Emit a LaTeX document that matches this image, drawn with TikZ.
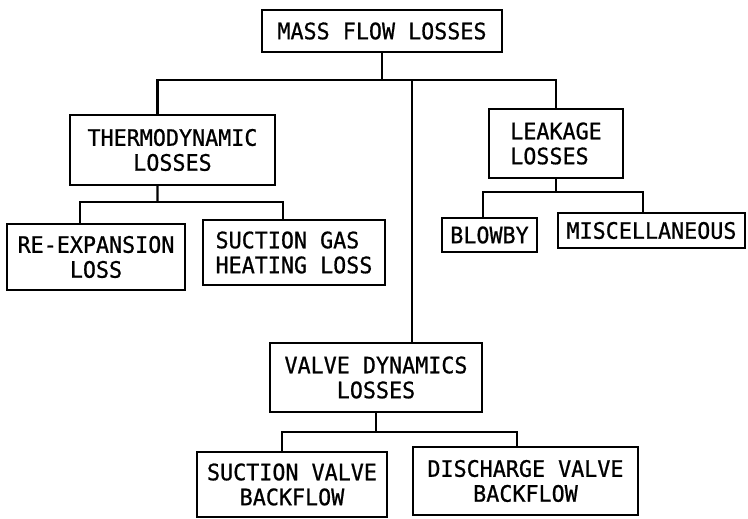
\documentclass[tikz,border=0pt]{standalone}
\usepackage{fontspec}
\usepackage{tikz}
\usetikzlibrary{calc}
\newfontfamily\printfont[FakeBold=0.8, FakeStretch=0.96]{DejaVu Sans Mono}
\definecolor{myink}{RGB}{0,0,0}
\tikzset{
  box/.style={rectangle, draw=myink, line width=2pt, inner sep=0pt,
    align=center, text=myink,
    font={\printfont\fontsize{19.3pt}{21.3pt}\selectfont}},
  lbox/.style={box, align=left},
  line/.style={line width=2pt, color=myink}
}
\begin{document}
\begin{tikzpicture}[x=0.3mm, y=-0.3mm]
  \useasboundingbox (0,0) rectangle (748,519);
  % top
  \node[box, minimum width=72mm, minimum height=12.6mm] (mass) at (382,31) {MASS FLOW LOSSES};
  % second level
  \node[box, minimum width=61.5mm, minimum height=21mm] (thermo) at (172.5,150) {THERMODYNAMIC\\LOSSES};
  \node[lbox, minimum width=40.2mm, minimum height=20.7mm] (leak) at (556,143.5) {LEAKAGE\\LOSSES};
  \node[box, minimum width=63.6mm, minimum height=20.7mm] (valve) at (376,377.5) {VALVE DYNAMICS\\LOSSES};
  % leaves
  \node[box, minimum width=53.4mm, minimum height=19.8mm] (reexp) at (96,257) {RE-EXPANSION\\LOSS};
  \node[lbox, minimum width=54.6mm, minimum height=19.5mm] (sucgas) at (294,252.5) {SUCTION GAS\\HEATING LOSS};
  \node[box, minimum width=28.5mm, minimum height=10.2mm] (blowby) at (489.5,235) {BLOWBY};
  \node[box, minimum width=56.1mm, minimum height=10.5mm] (misc) at (651.5,230.5) {MISCELLANEOUS};
  \node[box, minimum width=57mm, minimum height=19.5mm] (sucvalve) at (292,484.5) {SUCTION VALVE\\BACKFLOW};
  \node[box, minimum width=67.5mm, minimum height=20.4mm] (discharge) at (525.5,481) {DISCHARGE VALVE\\BACKFLOW};
  % junctions
  \coordinate (hub) at (412,80);
  \coordinate (tsplit) at (157.5,202);
  \coordinate (lsplit) at (556,192);
  \coordinate (vsplit) at (376,432);
  % connectors
  \draw[line] (mass.south) -- (mass.south |- hub);
  \draw[line] ([xshift=-4.5mm]thermo.north) |- (hub) -| (leak.north);
  \draw[line] (hub) -- (hub |- valve.north);
  \draw[line] ([xshift=-4.5mm]thermo.south) -- (tsplit);
  \draw[line] ([xshift=-4.8mm]reexp.north) |- (tsplit) -| ([xshift=-3.3mm]sucgas.north);
  \draw[line] (leak.south) -- (lsplit);
  \draw[line] ([xshift=-2mm]blowby.north) |- (lsplit) -| ([xshift=-2.5mm]misc.north);
  \draw[line] (valve.south) -- (vsplit);
  \draw[line] ([xshift=-3mm]sucvalve.north) |- (vsplit) -| ([xshift=-2.5mm]discharge.north);
\end{tikzpicture}
\end{document}
